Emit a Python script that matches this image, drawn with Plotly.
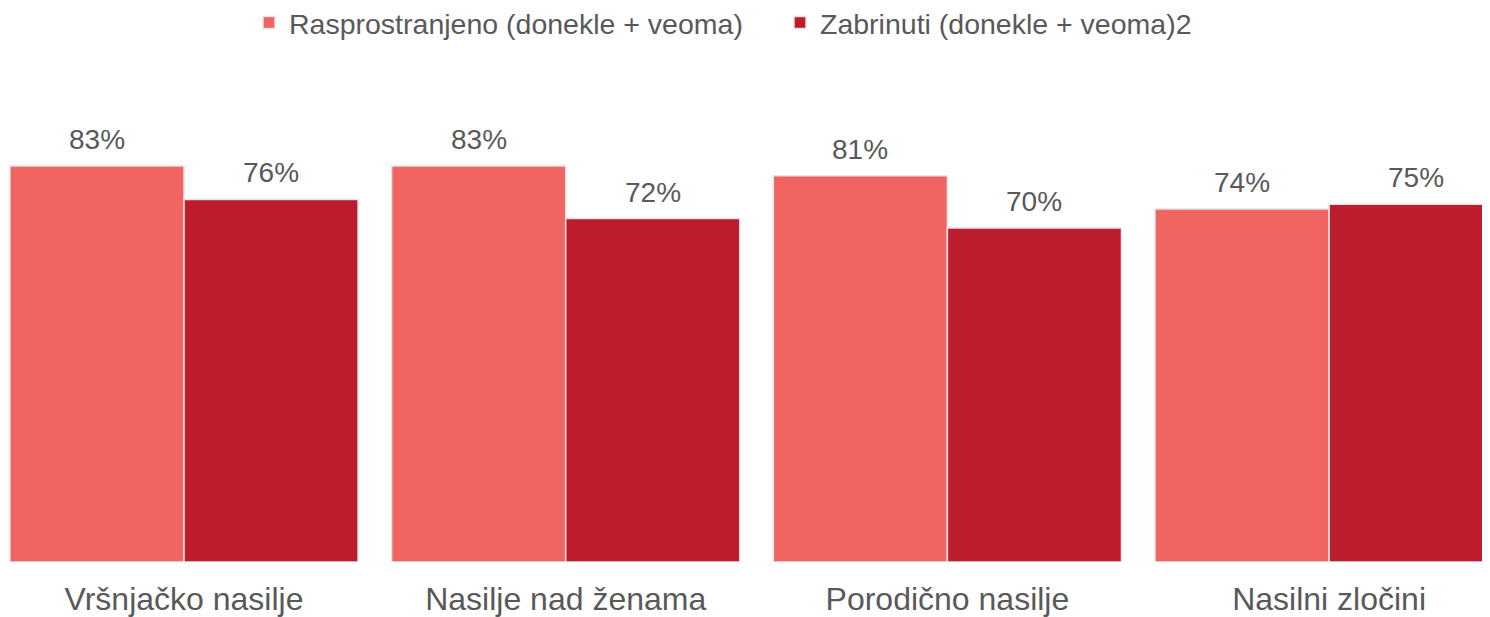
import plotly.graph_objects as go

categories = ["Vršnjačko nasilje", "Nasilje nad ženama", "Porodično nasilje", "Nasilni zločini"]
series_names = ["Rasprostranjeno (donekle + veoma)", "Zabrinuti (donekle + veoma)2"]
rasprostranjeno = [83, 83, 81, 74]
zabrinuti = [76, 72, 70, 75]
colors = ["#F06462", "#BC1C2B"]

FONT = "Liberation Sans, Arial, sans-serif"
TXT = "#595959"
BARGAP = 0.088

fig = go.Figure()
for name, vals, col in zip(series_names, [rasprostranjeno, zabrinuti], colors):
    fig.add_trace(go.Bar(
        name=name, x=categories, y=vals,
        marker=dict(color=col, line=dict(color="#E4E4E4", width=1.5)),
        hoverinfo="skip",
    ))

# data labels as annotations above each bar
half = (1 - BARGAP) / 4
for s, vals in enumerate([rasprostranjeno, zabrinuti]):
    for i, v in enumerate(vals):
        fig.add_annotation(
            x=i + (-half if s == 0 else half), y=v, xref="x", yref="y",
            text=f"{v}%", showarrow=False, yanchor="bottom", yshift=9,
            font=dict(family=FONT, size=28, color=TXT),
        )

fig.update_layout(
    width=1490, height=617,
    barmode="group", bargap=BARGAP, bargroupgap=0,
    plot_bgcolor="white", paper_bgcolor="white",
    margin=dict(l=0, r=0, t=77, b=63),
    font=dict(family=FONT, color=TXT),
    showlegend=True,
    legend=dict(orientation="h", x=(249 - 8) / 1490, xanchor="left", y=1 - 15 / 617, yanchor="middle",
                yref="container", font=dict(family=FONT, size=28.5, color=TXT),
                itemwidth=30, entrywidth=486, entrywidthmode="pixels",
                bgcolor="rgba(0,0,0,0)"),
    xaxis=dict(range=[-0.4611, 3.4425], showgrid=False, zeroline=False, showline=False,
               ticks="", tickfont=dict(family=FONT, size=32, color=TXT),
               ticklabelstandoff=15),
    yaxis=dict(range=[0, 100], visible=False),
)
fig.write_html("out.html")
